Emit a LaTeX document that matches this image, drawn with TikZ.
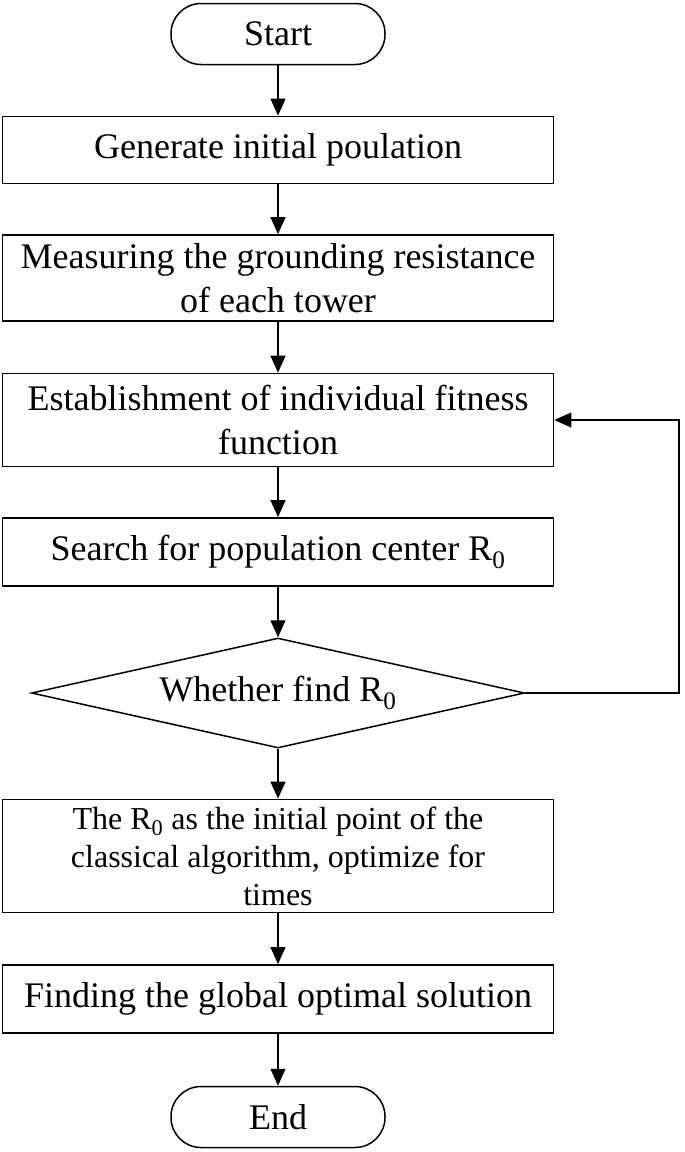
\documentclass[tikz,border=0pt]{standalone}
\usepackage{fontspec}
\setmainfont{Liberation Serif}
\usetikzlibrary{shapes.geometric,arrows.meta}

\begin{document}
\begin{tikzpicture}[x=1pt,y=-1pt,
  box/.style={draw,line width=1.8pt,minimum width=551pt,align=center,inner sep=0pt,font=\fontsize{36}{44}\selectfont},
  term/.style={draw,line width=1.5pt,minimum width=214pt,minimum height=61pt,rounded corners=30pt,inner sep=0pt,font=\fontsize{36}{44}\selectfont},
  decision/.style={draw,diamond,line width=1.5pt,aspect=4.5,minimum width=493pt,minimum height=110pt,inner sep=0pt,font=\fontsize{36}{44}\selectfont},
  arr/.style={line width=1.2pt,-{Triangle[length=17pt,width=15pt]}}]

\useasboundingbox (0,0) rectangle (685,1152);

\node [term] (start) at (278,34) {Start};
\node [box,minimum height=67pt] (gen) at (278,150) {Generate initial poulation};
\node [box,minimum height=86pt] (meas) at (278,278) {Measuring the grounding resistance\\of each tower};
\node [box,minimum height=93pt] (fit) at (278,420) {Establishment of individual fitness\\function};
\node [box,minimum height=68pt] (search) at (278,552) {Search for population center R\textsubscript{0}};
\node [decision] (find) at (278,693) {Whether find R\textsubscript{0}};
\node [box,minimum height=113pt,font=\fontsize{32}{38}\selectfont] (opt) at (278,856) {The R\textsubscript{0} as the initial point of the\\classical algorithm, optimize for\\times};
\node [box,minimum height=68pt] (glob) at (278,999) {Finding the global optimal solution};
\node [term] (end) at (278,1117) {End};

\draw [arr] (start) -- (gen);
\draw [arr] (gen) -- (meas);
\draw [arr] (meas) -- (fit);
\draw [arr] (fit) -- (search);
\draw [arr] (search) -- (find);
\draw [arr] (find) -- (opt);
\draw [arr] (opt) -- (glob);
\draw [arr] (glob) -- (end);

\coordinate (back) at (679,693);
\draw [arr] (find.east) -- (back) |- (fit.east);

\end{tikzpicture}
\end{document}
